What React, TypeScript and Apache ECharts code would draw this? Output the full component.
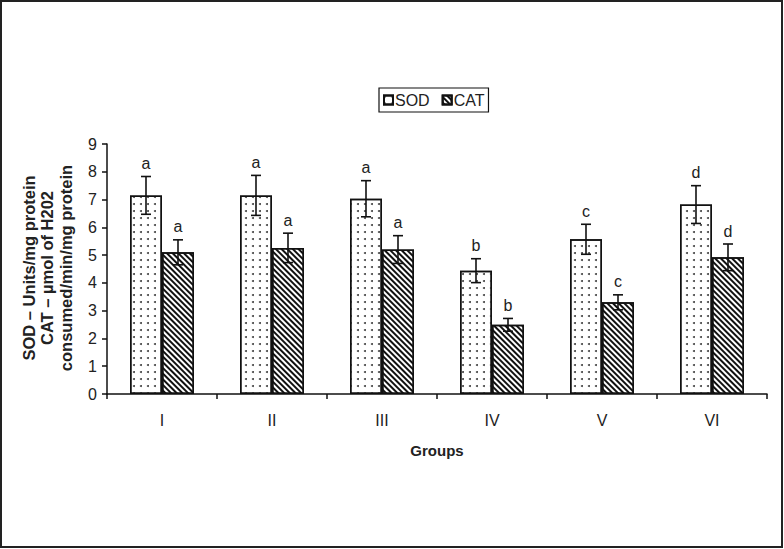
import React, { useEffect, useRef } from "react";
import * as echarts from "echarts";

const categories = ["I", "II", "III", "IV", "V", "VI"];
const sodValues = [7.15, 7.15, 7.03, 4.44, 5.57, 6.82];
const sodErrors = [0.68, 0.72, 0.65, 0.43, 0.54, 0.68];
const catValues = [5.1, 5.26, 5.2, 2.49, 3.3, 4.92];
const catErrors = [0.45, 0.53, 0.5, 0.23, 0.27, 0.48];
const sodLetters = ["a", "a", "a", "b", "c", "d"];
const catLetters = ["a", "a", "a", "b", "c", "d"];
const yTicks = { min: 0, max: 9, interval: 1 };

const FONT = '"Liberation Sans", Arial, sans-serif';
const BAR_W = 32;

function errorSeries(name: string, values: number[], errors: number[], letters: string[], offset: number) {
  return {
    type: "custom",
    name,
    z: 10,
    data: values.map((v, i) => [i, v, errors[i]]),
    renderItem: (params: any, api: any) => {
      const i = api.value(0);
      const v = api.value(1);
      const e = api.value(2);
      const top = api.coord([i, v + e]);
      const bot = api.coord([i, v - e]);
      const x = top[0] + offset;
      const cap = 5;
      const st = { stroke: "#111", lineWidth: 1.6 };
      return {
        type: "group",
        children: [
          { type: "line", shape: { x1: x, y1: top[1], x2: x, y2: bot[1] }, style: st },
          { type: "line", shape: { x1: x - cap, y1: top[1], x2: x + cap, y2: top[1] }, style: st },
          { type: "line", shape: { x1: x - cap, y1: bot[1], x2: x + cap, y2: bot[1] }, style: st },
          {
            type: "text",
            style: {
              text: letters[params.dataIndex],
              x,
              y: top[1] - 13,
              align: "center",
              verticalAlign: "middle",
              font: `16px ${FONT}`,
              fill: "#222",
            },
          },
        ],
      };
    },
  };
}

export default function App() {
  const ref = useRef<HTMLDivElement>(null);
  useEffect(() => {
    if (!ref.current) return;
    const chart = echarts.init(ref.current, null, { renderer: "svg" });
    const dotDecal = {
      symbol: "circle",
      symbolSize: 1,
      dashArrayX: [1.6, 4.6],
      dashArrayY: [1.6, 4.6],
      color: "#444",
      backgroundColor: "#fff",
    };
    const hatchDecal = {
      symbol: "rect",
      symbolSize: 1,
      dashArrayX: [1, 0],
      dashArrayY: [1.7, 1.5],
      rotation: Math.PI / 4,
      color: "#111",
      backgroundColor: "#fff",
    };
    chart.setOption({
      animation: false,
      backgroundColor: "#fff",
      grid: { left: 107, right: 17, top: 144, bottom: 155 },
      legend: {
        data: [
          { name: "SOD", icon: "rect" },
          { name: "CAT", icon: "rect" },
        ],
        left: 379,
        top: 88,
        orient: "horizontal",
        borderColor: "#111",
        borderWidth: 1.2,
        padding: [4, 4, 4, 4],
        itemWidth: 9,
        itemHeight: 9,
        itemGap: 12,
        textStyle: { fontFamily: FONT, fontSize: 16, color: "#222", padding: [0, 0, 0, -3] },
      },
      xAxis: {
        type: "category",
        data: categories,
        axisLine: { lineStyle: { color: "#111", width: 1.5 } },
        axisTick: { show: true, length: 5, lineStyle: { color: "#111", width: 1.5 } },
        axisLabel: { fontFamily: FONT, fontSize: 16, color: "#222", margin: 18 },
        name: "Groups",
        nameLocation: "middle",
        nameGap: 49,
        nameTextStyle: { fontFamily: FONT, fontSize: 15, fontWeight: "bold", color: "#222" },
      },
      yAxis: {
        type: "value",
        min: yTicks.min,
        max: yTicks.max,
        interval: yTicks.interval,
        axisLine: { show: true, lineStyle: { color: "#111", width: 1.5 } },
        axisTick: { show: true, length: 5, lineStyle: { color: "#111", width: 1.5 } },
        splitLine: { show: false },
        axisLabel: { fontFamily: FONT, fontSize: 16, color: "#222", margin: 10 },
      },
      series: [
        {
          type: "bar",
          name: "SOD",
          data: sodValues,
          barWidth: BAR_W,
          barGap: "0%",
          itemStyle: { color: "#fff", borderColor: "#111", borderWidth: 1.5, decal: dotDecal },
        },
        {
          type: "bar",
          name: "CAT",
          data: catValues,
          barWidth: BAR_W,
          barGap: "0%",
          itemStyle: { color: "#fff", borderColor: "#111", borderWidth: 1.5, decal: hatchDecal },
        },
        errorSeries("SOD err", sodValues, sodErrors, sodLetters, -BAR_W / 2),
        errorSeries("CAT err", catValues, catErrors, catLetters, BAR_W / 2),
      ],
      graphic: [
        {
          type: "text",
          x: 47,
          y: 268,
          rotation: Math.PI / 2,
          style: {
            text: "SOD – Units/mg protein\nCAT – µmol of H202\nconsumed/min/mg protein",
            align: "center",
            verticalAlign: "middle",
            font: `bold 16.5px ${FONT}`,
            lineHeight: 18.5,
            fill: "#222",
          },
        },
        {
          type: "rect",
          shape: { x: 1, y: 1, width: 781, height: 546 },
          style: { fill: "none", stroke: "#222", lineWidth: 2 },
          silent: true,
        },
      ],
    });
    return () => chart.dispose();
  }, []);
  return (
    <div
      ref={ref}
      style={{ position: "fixed", left: 0, top: 0, width: 784, height: 549, background: "#fff" }}
    />
  );
}
